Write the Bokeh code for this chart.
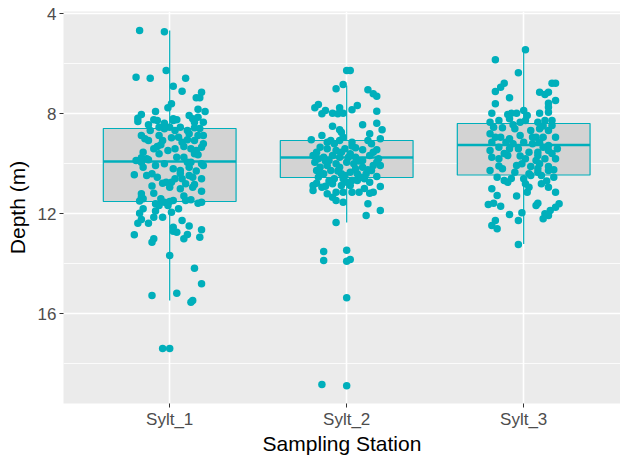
from bokeh.plotting import figure
from bokeh.models import Range1d, FixedTicker, ColumnDataSource
from bokeh.embed import file_html
from bokeh.resources import INLINE

stations = ["Sylt_1", "Sylt_2", "Sylt_3"]

# box statistics (depth, m)
whisker_low = [4.68, 6.88, 5.44]
q1 = [8.60, 9.08, 8.40]
median = [9.92, 9.76, 9.26]
q3 = [11.52, 10.56, 10.46]
whisker_high = [15.48, 12.36, 13.22]

# jittered observations: depth (m) and horizontal jitter (category units)
s1_depth = [4.68, 4.73, 6.28, 6.55, 6.59, 6.59, 6.91, 7.11, 7.15, 7.37, 7.37, 7.61, 7.77, 7.83, 7.92, 7.92,
            8.04, 8.19, 8.08, 8.21, 8.15, 8.32, 8.25, 8.28, 8.39, 8.21, 8.25, 8.35, 8.55, 8.55, 8.57, 8.68,
            8.88, 9.01, 8.88, 8.97, 8.81, 8.88, 8.88, 9.08, 9.08, 9.15, 9.08, 9.32, 9.41, 9.48, 9.41, 9.32,
            9.41, 9.48, 9.21, 9.61, 9.61, 9.88, 9.77, 9.81, 10.08, 10.21, 9.75, 9.95, 10.15, 10.01, 10.08,
            10.45, 10.48, 10.41, 10.55, 10.79, 10.75, 10.75, 10.61, 10.61, 10.81, 10.48, 10.84, 10.61, 11.01,
            11.11, 11.21, 11.19, 11.41, 11.41, 11.55, 11.52, 11.48, 11.48, 11.45, 11.59, 11.55, 11.81, 11.99,
            11.61, 11.68, 11.68, 11.81, 11.95, 12.15, 12.15, 12.24, 12.39, 12.39, 12.28, 12.55, 12.71, 12.75,
            12.84, 13.01, 12.65, 12.95, 12.85, 13.01, 13.15, 13.68, 14.19, 14.81, 15.28, 15.19, 15.48, 15.55,
            17.40, 17.40, 9.95, 8.61, 8.68, 8.68, 8.35, 9.35, 10.15, 10.28, 10.55, 11.35, 8.28, 9.75, 10.01,
            8.45, 8.95, 9.25, 9.05, 9.55, 9.65, 10.40, 10.90, 10.95, 11.50, 11.30, 8.55, 8.60, 9.95, 9.85,
            10.95, 10.30, 11.90, 12.50]
s1_jitter = [-0.17, -0.03, -0.02, -0.19, -0.11, 0.09, 0.02, 0.07, 0.18, 0.15, 0.17, 0.01, -0.01, 0.16, 0.20, -0.08,
             -0.16, -0.18, 0.11, 0.13, 0.16, -0.18, -0.09, -0.07, -0.03, 0.02, 0.04, 0.19, 0.00, 0.06, 0.14, 0.10,
             -0.16, -0.14, -0.06, 0.01, 0.11, 0.16, 0.19, -0.12, -0.04, 0.07, 0.14, -0.07, -0.09, -0.01, 0.03, 0.08,
             0.12, 0.15, 0.19, -0.06, 0.14, -0.19, -0.16, -0.13, -0.08, 0.02, 0.08, 0.10, 0.11, 0.18, 0.19,
             -0.20, -0.13, -0.10, -0.07, -0.04, -0.02, 0.01, 0.03, 0.07, 0.09, 0.11, 0.14, 0.18, 0.06,
             0.18, -0.16, -0.09, -0.15, -0.05, -0.03, 0.00, 0.02, 0.09, 0.12, 0.16, 0.18, -0.15, -0.17,
             -0.08, -0.06, -0.01, 0.05, 0.01, -0.09, -0.04, -0.16, -0.18, -0.12, 0.07, 0.02, 0.02, 0.04,
             0.10, 0.08, 0.18, 0.17, -0.20, -0.09, -0.10, 0.00, 0.14, 0.18, -0.10, 0.04, 0.13, 0.12,
             -0.04, 0.00, -0.16, -0.03, 0.03, -0.11, 0.14, 0.18, -0.15, 0.06, 0.13, -0.16, 0.02, 0.04, -0.03,
             -0.12, 0.05, -0.05, 0.10, -0.15, 0.16, 0.06, -0.10, 0.13, -0.17, 0.08, -0.06, 0.17, 0.12, -0.12,
             0.00, 0.15, -0.08, 0.11]

s2_depth = [6.28, 6.28, 7.01, 6.84, 7.05, 7.21, 7.31, 7.77, 7.64, 8.01, 7.88, 7.99, 7.77, 8.01, 7.99, 7.85,
            7.68, 8.45, 7.91, 8.39, 8.51, 8.65, 8.75, 8.65, 8.81, 9.01, 9.05, 8.88, 9.08, 9.08, 9.15, 9.08,
            9.21, 9.35, 9.41, 9.48, 9.41, 9.37, 9.45, 9.45, 9.68, 9.81, 9.75, 9.68, 9.75, 9.61, 9.75, 9.68,
            9.81, 9.95, 10.08, 10.01, 9.95, 10.01, 10.15, 10.08, 10.08, 10.28, 10.41, 10.28, 10.41, 10.35,
            10.41, 10.41, 10.28, 10.52, 10.55, 10.61, 10.61, 10.61, 10.88, 10.79, 10.91, 10.81, 10.88, 10.88,
            10.75, 10.92, 11.08, 11.21, 11.15, 11.15, 11.15, 11.15, 11.19, 11.15, 11.35, 11.48, 11.55, 11.61,
            12.08, 11.88, 12.36, 13.52, 13.47, 13.88, 13.91, 13.84, 15.37, 18.84, 18.89,
            9.88, 10.15, 10.21, 10.15, 9.75, 9.15, 9.88, 9.21, 10.48, 10.68, 10.68, 10.95,
            9.55, 9.55, 9.55, 9.90, 9.90, 10.25, 10.30, 10.75, 10.70, 9.95, 10.55, 10.40, 9.30, 8.95, 11.00]
s2_jitter = [0.00, 0.02, -0.06, -0.02, 0.12, 0.15, 0.17, -0.18, -0.16, -0.14, -0.12, -0.08, -0.04, -0.05, -0.02, 0.03,
             0.06, 0.09, 0.17, 0.17, -0.08, -0.04, -0.03, 0.20, 0.13, 0.19, -0.20, -0.14, -0.09, -0.04, 0.03, 0.12,
             0.14, -0.15, -0.11, -0.06, -0.01, 0.05, 0.09, 0.17, -0.19, -0.16, -0.13, -0.08, -0.04, 0.02, 0.05, 0.13,
             0.18, -0.18, -0.11, -0.06, 0.00, 0.04, 0.09, 0.15, 0.19, -0.17, -0.13, -0.09, -0.03, 0.02,
             0.06, 0.11, 0.14, 0.17, -0.16, -0.07, -0.02, 0.10, -0.19, -0.17, -0.12, -0.08, -0.03, 0.02,
             0.13, 0.19, -0.19, -0.11, -0.06, -0.02, 0.03, 0.07, 0.13, 0.15, -0.08, -0.06, -0.02, 0.12,
             0.11, 0.19, -0.06, -0.13, 0.00, -0.13, 0.00, 0.02, 0.00, -0.14, 0.00,
             -0.10, -0.04, 0.05, -0.15, 0.01, -0.11, 0.09, -0.07, -0.01, 0.06, 0.03, -0.14,
             -0.17, 0.15, -0.03, 0.07, -0.12, 0.12, -0.05, 0.00, -0.10, 0.17, 0.08, -0.15, 0.03, -0.02, 0.10]

s3_depth = [5.45, 5.85, 6.37, 6.79, 6.95, 7.12, 7.37, 6.79, 6.79, 7.15, 7.24, 7.15, 7.61, 7.59, 7.48, 7.75,
            7.99, 8.04, 7.99, 7.99, 7.88, 8.08, 7.99, 7.95, 8.35, 8.28, 8.21, 8.35, 8.28, 8.35, 8.28, 8.48,
            8.55, 8.57, 8.61, 8.68, 8.61, 8.68, 8.81, 8.95, 9.01, 8.88, 8.95, 8.95, 8.95, 9.15, 9.15, 9.21,
            9.15, 9.21, 9.15, 9.28, 9.48, 9.35, 9.41, 9.41, 9.55, 9.55, 9.48, 9.41, 9.75, 9.68, 9.81, 9.88,
            9.81, 9.81, 10.08, 10.01, 10.12, 10.01, 10.12, 10.28, 10.21, 10.35, 10.41, 10.35, 10.28, 10.55,
            10.68, 10.75, 10.61, 10.48, 10.48, 10.55, 10.81, 10.95, 10.81, 10.95, 11.15, 11.15, 11.01, 11.28,
            11.64, 11.59, 11.71, 11.59, 11.68, 11.61, 11.75, 11.88, 12.01, 12.08, 12.21, 12.04, 11.97, 12.28,
            12.28, 12.48, 12.61, 13.24, 8.28, 9.81, 9.68,
            8.45, 8.50, 8.95, 8.95, 9.60, 9.60, 9.35, 9.70, 10.10, 10.20, 10.25, 10.60, 10.70, 11.30]
s3_jitter = [0.01, -0.16, -0.03, -0.11, -0.13, -0.16, -0.08, 0.16, 0.18, 0.09, 0.12, 0.14, -0.16, 0.14, 0.18, 0.14,
             -0.18, -0.09, -0.07, -0.04, 0.00, 0.02, 0.09, 0.14, -0.19, -0.14, -0.08, -0.02, 0.01, 0.08, 0.12, 0.16,
             -0.17, -0.12, -0.05, 0.04, 0.09, 0.14, -0.19, -0.13, -0.08, -0.02, 0.07, 0.11, 0.18, -0.18, -0.10, -0.06,
             0.00, 0.05, 0.09, 0.14, -0.19, -0.14, -0.08, -0.03, 0.03, 0.08, 0.14, 0.19, -0.18, -0.09, 0.01, 0.07,
             0.12, 0.18, -0.04, -0.01, 0.04, 0.09, 0.14, -0.19, -0.12, -0.05, 0.03, 0.08, 0.14, -0.15,
             -0.11, -0.09, 0.00, 0.04, 0.10, 0.17, 0.01, 0.03, 0.10, 0.14, 0.02, 0.18, -0.18, -0.15,
             -0.20, -0.17, -0.13, 0.08, 0.07, 0.20, 0.18, 0.15, 0.12, 0.14, 0.11, -0.08, -0.01, -0.03,
             -0.16, -0.18, -0.15, -0.03, 0.16, -0.14, 0.08,
             -0.06, 0.11, -0.16, 0.05, -0.11, 0.16, 0.11, -0.02, -0.14, 0.08, 0.17, -0.07, 0.13, -0.04]

y_ticks = [4, 8, 12, 16]
y_minor = [6, 10, 14, 18]

TEAL = "#00AFBB"
BOX_FILL = "#D3D3D3"
PANEL = "#EBEBEB"
FONT = "Liberation Sans"

pos = [i + 1 for i in range(len(stations))]
half = 0.375

p = figure(width=620, height=458, output_backend="svg", toolbar_location=None,
           x_range=Range1d(0.4, 3.547), y_range=Range1d(19.6, 3.92),
           min_border_left=63, min_border_right=0, min_border_top=11, min_border_bottom=55)
p.background_fill_color = PANEL
p.border_fill_color = "white"
p.outline_line_color = None

# grid
p.xgrid.ticker = FixedTicker(ticks=pos)
p.xgrid.grid_line_color = "white"
p.xgrid.grid_line_width = 1.6
p.ygrid.ticker = FixedTicker(ticks=y_ticks, minor_ticks=y_minor)
p.ygrid.grid_line_color = "white"
p.ygrid.grid_line_width = 1.6
p.ygrid.minor_grid_line_color = "white"
p.ygrid.minor_grid_line_width = 0.8

# axes
p.xaxis.ticker = FixedTicker(ticks=pos)
p.xaxis.major_label_overrides = {k: s for k, s in zip(pos, stations)}
p.yaxis.ticker = FixedTicker(ticks=y_ticks)
for ax in (p.xaxis[0], p.yaxis[0]):
    ax.axis_line_color = None
    ax.major_tick_line_color = "#333333"
    ax.major_tick_line_width = 1
    ax.major_tick_out = 4
    ax.major_tick_in = 0
    ax.minor_tick_line_color = None
    ax.major_label_text_font = FONT
    ax.major_label_text_font_size = "17px"
    ax.major_label_text_color = "#4D4D4D"
    ax.axis_label_text_font = FONT
    ax.axis_label_text_font_size = "21px"
    ax.axis_label_text_font_style = "normal"
    ax.axis_label_text_color = "black"
p.xaxis.axis_label = "Sampling Station"
p.yaxis.axis_label = "Depth (m)"
p.xaxis.major_label_standoff = 2
p.xaxis.axis_label_standoff = 0
p.yaxis.major_label_standoff = 3
p.yaxis.axis_label_standoff = 6

# whiskers
wsrc = ColumnDataSource(dict(x=pos, lo=whisker_low, q1=q1, q3=q3, hi=whisker_high))
p.segment(x0="x", x1="x", y0="lo", y1="q1", source=wsrc, line_color=TEAL, line_width=1.2)
p.segment(x0="x", x1="x", y0="q3", y1="hi", source=wsrc, line_color=TEAL, line_width=1.2)

# boxes
bsrc = ColumnDataSource(dict(x=pos, q1=q1, q3=q3, med=median,
                             l=[x - half for x in pos], r=[x + half for x in pos]))
p.quad(left="l", right="r", top="q1", bottom="q3", source=bsrc,
       fill_color=BOX_FILL, line_color=TEAL, line_width=1.2)
p.segment(x0="l", x1="r", y0="med", y1="med", source=bsrc, line_color=TEAL, line_width=2.4)

# points
xs, ys = [], []
for k, (d, j) in enumerate([(s1_depth, s1_jitter), (s2_depth, s2_jitter), (s3_depth, s3_jitter)]):
    xs += [pos[k] + v for v in j]
    ys += d
p.scatter(x=xs, y=ys, size=7.5, fill_color=TEAL, line_color=None)

open("out.html", "w").write(file_html(p, INLINE))
